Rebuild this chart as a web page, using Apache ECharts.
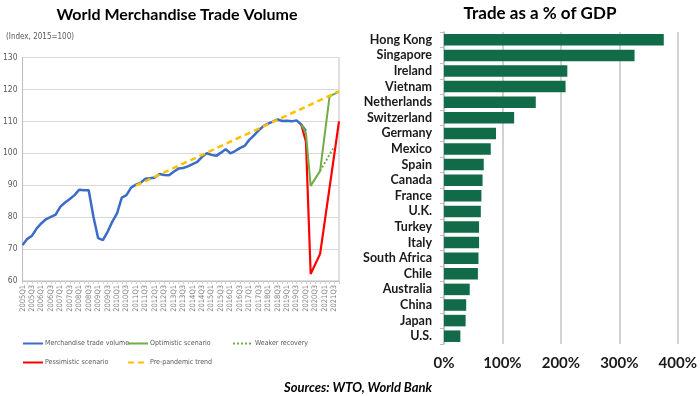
<!DOCTYPE html>
<html>
<head>
<meta charset="utf-8">
<title>World Merchandise Trade Volume / Trade as a % of GDP</title>
<script src="https://cdn.jsdelivr.net/npm/echarts@6/dist/echarts.min.js"></script>
<style>
    * { margin: 0; padding: 0; }
    body { background: #fff; }
    #view { width: 700px; height: 396px; }
</style>
</head>
<body>
<div id="view"></div>
<script>
    // left panel: world merchandise trade volume, quarterly (index, 2015=100)
    var years = [2005, 2006, 2007, 2008, 2009, 2010, 2011, 2012, 2013, 2014, 2015, 2016, 2017, 2018, 2019, 2020, 2021];
    var quarters = [];
    years.forEach(function (y) {
        ['Q1', 'Q2', 'Q3', 'Q4'].forEach(function (q) { quarters.push(y + q); });
    });

    // actual volume, 2005Q1 .. 2020Q1
    var tradeVolume = [
        71.3, 73.2, 74.2, 76.5, 78.1, 79.4, 80.1, 80.8,
        83.3, 84.6, 85.7, 86.9, 88.6, 88.4, 88.4, 80.1,
        73.4, 72.8, 75.4, 78.6, 81.2, 86.1, 86.9, 89.3,
        90.2, 90.8, 92.0, 92.2, 92.4, 93.5, 93.2, 93.1,
        94.2, 95.2, 95.4, 95.9, 96.6, 97.3, 98.9, 100.0,
        99.5, 99.2, 100.2, 101.3, 100.0, 100.7, 101.6, 102.3,
        104.2, 105.6, 107.2, 108.5, 109.3, 109.9, 110.6, 110.1,
        110.2, 110.0, 110.3, 109.0, 107.0
    ];
    // scenarios: [quarter, value] at the corners of each line
    var optimistic = [['2019Q4', 109.0], ['2020Q1', 106.3], ['2020Q2', 89.8], ['2020Q4', 94.5], ['2021Q2', 117.8], ['2021Q4', 119.3]];
    var weaker = [['2020Q4', 94.5], ['2021Q3', 102.1]];
    var pessimistic = [['2019Q4', 109.0], ['2020Q1', 103.6], ['2020Q2', 62.2], ['2020Q4', 68.5], ['2021Q4', 110.0]];
    var trend = [['2011Q1', 89.9], ['2021Q4', 119.4]];

    // right panel: trade as a % of GDP
    var countries = ['Hong Kong', 'Singapore', 'Ireland', 'Vietnam', 'Netherlands', 'Switzerland', 'Germany', 'Mexico',
        'Spain', 'Canada', 'France', 'U.K.', 'Turkey', 'Italy', 'South Africa', 'Chile', 'Australia', 'China', 'Japan', 'U.S.'];
    var tradeGdp = [376, 326, 211, 208, 157, 120, 89, 80, 68, 66, 64, 63, 60, 60, 59, 58, 44, 38, 37, 28];

    var boldFont = 'Lato';
    var smallFont = '"DejaVu Sans Condensed", Lato, sans-serif';
    var grey = '#595959';

    function legendAt(name, left, top) {
        return {
            data: [name],
            left: left,
            top: top,
            itemWidth: 20,
            itemHeight: 8,
            itemGap: 2,
            padding: 0,
            selectedMode: false,
            itemStyle: { opacity: 0 },
            textStyle: { fontFamily: smallFont, fontSize: 7, color: grey, padding: [0, 0, 0, -3] }
        };
    }

    var view = echarts.init(document.getElementById('view'));
    var option = {
        animation: false,
        title: [
            { text: 'World Merchandise Trade Volume', left: 172, top: 2, textAlign: 'center',
              textStyle: { fontFamily: boldFont, fontWeight: 'bold', fontSize: 16, color: '#000' } },
            { text: '(Index, 2015=100)', left: 1, top: 28,
              textStyle: { fontFamily: smallFont, fontWeight: 'normal', fontSize: 8, color: grey } },
            { text: 'Trade as a % of GDP', left: 535, top: 0, textAlign: 'center',
              textStyle: { fontFamily: boldFont, fontWeight: 'bold', fontSize: 17, color: '#000' } },
            { text: 'Sources: WTO, World Bank', left: 353, top: 376, textAlign: 'center',
              textStyle: { fontFamily: boldFont, fontWeight: 'bold', fontStyle: 'italic', fontSize: 13, color: '#000' } }
        ],
        legend: [
            legendAt('Merchandise trade volume', 22, 340),
            legendAt('Optimistic scenario', 127, 340),
            legendAt('Weaker recovery', 232, 340),
            legendAt('Pessimistic scenario', 22, 359),
            legendAt('Pre-pandemic trend', 127, 359)
        ],
        grid: [
            { left: 22, right: 361, top: 57.5, bottom: 115, show: true, borderColor: '#bfbfbf', borderWidth: 1 },
            { left: 444, right: 19, top: 32, bottom: 52 }
        ],
        xAxis: [
            {
                gridIndex: 0,
                type: 'category',
                data: quarters,
                boundaryGap: false,
                axisLine: { lineStyle: { color: '#bfbfbf' } },
                axisTick: { show: true, interval: 0, length: 3, lineStyle: { color: '#d0d0d0' } },
                axisLabel: { interval: 1, rotate: 90, fontFamily: smallFont, fontSize: 7.5, color: '#7f7f7f', margin: 4 }
            },
            {
                gridIndex: 1,
                type: 'value',
                min: 0,
                max: 400,
                interval: 100,
                axisLine: { show: false },
                axisTick: { show: false },
                splitLine: { lineStyle: { color: '#c4c4c4', width: 1.5 } },
                axisLabel: { formatter: '{value}%', fontFamily: boldFont, fontWeight: 'bold', fontSize: 15, color: '#1a1a1a', margin: 12 }
            }
        ],
        yAxis: [
            {
                gridIndex: 0,
                type: 'value',
                min: 60,
                max: 130,
                interval: 10,
                axisLine: { show: true, lineStyle: { color: '#bfbfbf' } },
                splitLine: { lineStyle: { color: '#d9d9d9' } },
                axisLabel: { fontFamily: smallFont, fontSize: 8.5, color: grey, margin: 5 }
            },
            {
                gridIndex: 1,
                type: 'category',
                data: countries,
                inverse: true,
                axisLine: { show: true, lineStyle: { color: '#bfbfbf', width: 1.5 } },
                axisTick: { show: true, length: 4, lineStyle: { color: '#bfbfbf' } },
                axisLabel: { interval: 0, fontFamily: boldFont, fontWeight: 'bold', fontSize: 12.5, color: '#1a1a1a', margin: 12 }
            }
        ],
        series: [
            { name: 'Merchandise trade volume', type: 'line', xAxisIndex: 0, yAxisIndex: 0, data: tradeVolume,
              symbol: 'none', lineStyle: { color: '#3b6cc7', width: 2.5 }, itemStyle: { color: '#3b6cc7' } },
            { name: 'Pessimistic scenario', type: 'line', xAxisIndex: 0, yAxisIndex: 0, data: pessimistic,
              symbol: 'none', lineStyle: { color: '#ff0000', width: 2.2 }, itemStyle: { color: '#ff0000' } },
            { name: 'Optimistic scenario', type: 'line', xAxisIndex: 0, yAxisIndex: 0, data: optimistic,
              symbol: 'none', lineStyle: { color: '#70ad47', width: 2 }, itemStyle: { color: '#70ad47' } },
            { name: 'Weaker recovery', type: 'line', xAxisIndex: 0, yAxisIndex: 0, data: weaker,
              symbol: 'none', lineStyle: { color: '#70ad47', width: 2, type: [2, 2] }, itemStyle: { color: '#70ad47' } },
            { name: 'Pre-pandemic trend', type: 'line', xAxisIndex: 0, yAxisIndex: 0, data: trend,
              symbol: 'none', lineStyle: { color: '#ffc000', width: 2.5, type: [6, 4] }, itemStyle: { color: '#ffc000' } },
            { name: 'Trade % of GDP', type: 'bar', xAxisIndex: 1, yAxisIndex: 1, data: tradeGdp,
              barCategoryGap: '26%', itemStyle: { color: '#116b48' } }
        ]
    };
    view.setOption(option);
</script>
</body>
</html>
